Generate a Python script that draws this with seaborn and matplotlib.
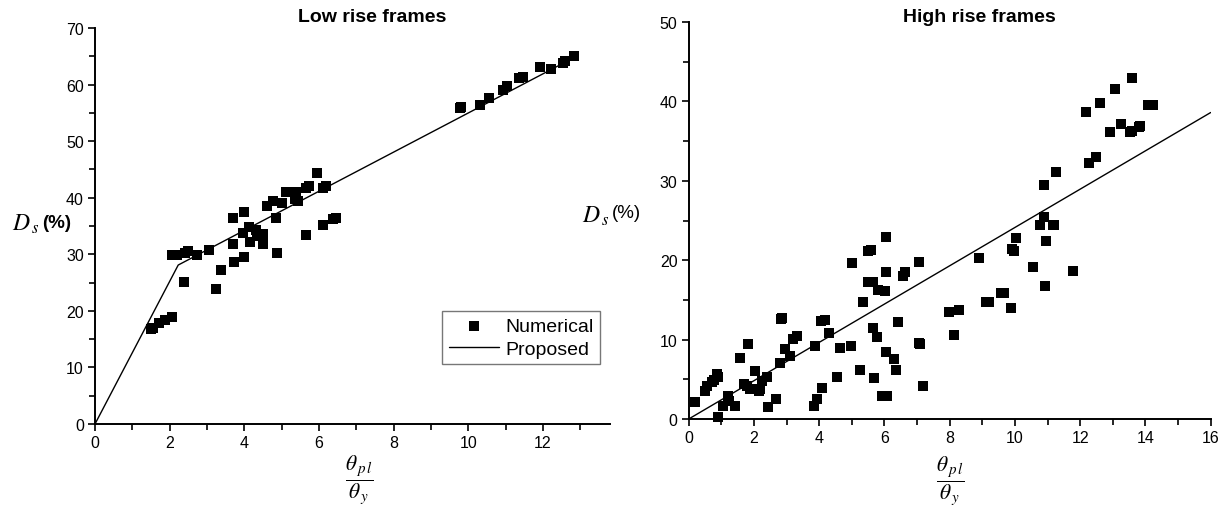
import matplotlib
matplotlib.use("Agg")
import matplotlib.pyplot as plt
from matplotlib.ticker import MultipleLocator
import seaborn as sns
import pandas as pd

# ---------------- data ----------------
low_x = [1.49, 1.55, 1.72, 1.88, 2.05,
         2.05, 2.19, 2.41, 2.50, 2.72, 3.05,
         2.38, 3.24, 3.37, 3.72, 4.00, 4.88,
         3.70, 4.00, 3.70, 3.97, 4.13, 4.15, 4.31, 4.33, 4.51, 4.49, 4.85,
         4.62, 4.76, 5.00, 5.11, 5.38, 5.36, 5.45, 5.65, 5.74, 5.96, 6.12,
         6.20, 5.65, 6.12, 6.38, 6.45,
         9.78, 9.80, 10.31, 10.55, 10.94, 11.03, 11.37, 11.46, 11.92, 12.21,
         12.53, 12.59, 12.84]
low_y = [16.8, 16.9, 17.9, 18.4, 19.0,
         29.9, 29.8, 30.3, 30.5, 29.9, 30.8,
         25.1, 23.9, 27.2, 28.6, 29.6, 30.3,
         36.4, 37.5, 31.8, 33.7, 34.8, 32.1, 34.3, 33.2, 33.6, 31.8, 36.4,
         38.5, 39.5, 39.1, 41.0, 41.0, 39.8, 39.4, 41.8, 42.1, 44.4, 41.8,
         42.0, 33.4, 35.2, 36.2, 36.5,
         55.8, 56.1, 56.4, 57.6, 59.1, 59.7, 61.2, 61.4, 63.1, 62.8,
         63.9, 64.1, 65.0]
low_line_x = [0.0, 2.23, 12.9]
low_line_y = [0.0, 28.1, 65.0]

high_x = [0.19, 0.50, 0.55, 0.71, 0.78, 0.86, 0.91, 0.91, 1.06, 1.21, 1.25,
          1.42, 1.57, 1.83, 1.68, 1.78, 1.88, 2.03, 2.14, 2.19, 2.24, 2.40,
          2.44, 2.68, 2.82, 2.85, 2.80, 2.96, 3.11, 3.21, 3.33, 3.88, 3.85,
          3.93, 4.08, 4.06, 4.18, 4.31, 4.54, 4.64, 4.98, 5.02, 5.25, 5.33,
          5.51, 5.60, 5.51, 5.66, 5.66, 5.69, 5.76, 5.81, 6.02, 6.05, 5.92,
          6.07, 6.05, 6.28, 6.36, 6.43, 6.05, 6.58, 6.63, 7.07, 7.06, 7.10,
          7.18, 7.99, 8.27, 8.14, 8.91, 9.12, 9.19, 9.57, 9.65, 9.89, 9.91,
          9.96, 10.04, 10.55, 10.91, 10.95, 11.78, 10.78, 10.88, 11.17, 11.20,
          10.88, 11.27, 12.18, 12.28, 12.49, 12.62, 12.90, 13.08, 13.25,
          13.59, 13.54, 13.60, 13.79, 13.84, 14.08, 14.23]
high_y = [2.18, 3.57, 4.19, 4.60, 4.90, 5.67, 5.25, 0.29, 1.68, 2.94, 2.31,
          1.60, 7.64, 9.45, 4.41, 4.19, 3.78, 6.00, 3.57, 3.78, 4.83, 5.33,
          1.55, 2.52, 12.6, 12.7, 7.00, 8.82, 7.90, 10.1, 10.5, 9.16, 1.60,
          2.52, 3.90, 12.4, 12.5, 10.8, 5.25, 8.90, 9.24, 19.6, 6.17, 14.7,
          21.1, 21.3, 17.2, 17.2, 11.4, 5.16, 10.3, 16.3, 16.1, 18.5, 2.94,
          2.94, 8.48, 7.56, 6.20, 12.25, 22.9, 18.05, 18.5, 19.8, 9.53, 9.50,
          4.20, 13.5, 13.7, 10.6, 20.3, 14.77, 14.7, 15.9, 15.9, 14.0, 21.4,
          21.2, 22.75, 19.2, 16.7, 22.45, 18.7, 24.4, 25.4, 24.4, 24.4,
          29.5, 31.1, 38.7, 32.3, 33.0, 39.8, 36.1, 41.6, 37.1,
          42.9, 36.2, 36.3, 36.8, 36.9, 39.5, 39.6]
high_line_x = [0.0, 16.0]
high_line_y = [0.0, 38.6]

# ---------------- style ----------------
sns.set_style("ticks")
plt.rcParams['font.family'] = ['Liberation Sans', 'DejaVu Sans']
plt.rcParams['mathtext.fontset'] = 'stix'
plt.rcParams['text.color'] = 'black'
plt.rcParams['axes.labelcolor'] = 'black'

W, H = 1227, 510
fig = plt.figure(figsize=(W / 100, H / 100), dpi=100)

ax1 = fig.add_axes([95 / W, (H - 425) / H, 515 / W, 396 / H])
ax2 = fig.add_axes([688.7 / W, (H - 420) / H, 522 / W, 397 / H])

low_pts = pd.DataFrame({"x": low_x, "y": low_y})
low_ln = pd.DataFrame({"x": low_line_x, "y": low_line_y})
high_pts = pd.DataFrame({"x": high_x, "y": high_y})
high_ln = pd.DataFrame({"x": high_line_x, "y": high_line_y})

sns.scatterplot(data=low_pts, x="x", y="y", ax=ax1, marker="s", s=58,
                color="black", edgecolor="black", linewidth=0,
                label="Numerical", zorder=3, clip_on=False)
sns.lineplot(data=low_ln, x="x", y="y", ax=ax1, color="black", lw=1.0,
             label="Proposed", sort=False, estimator=None)

sns.scatterplot(data=high_pts, x="x", y="y", ax=ax2, marker="s", s=58,
                color="black", edgecolor="black", linewidth=0,
                zorder=3, clip_on=False, legend=False)
sns.lineplot(data=high_ln, x="x", y="y", ax=ax2, color="black", lw=1.0,
             sort=False, estimator=None, legend=False)

for ax, xmax, ymax, xmaj, ymaj in [(ax1, 13.8, 70, 2, 10), (ax2, 16, 50, 2, 10)]:
    ax.set_xlim(0, xmax)
    ax.set_ylim(0, ymax)
    ax.xaxis.set_major_locator(MultipleLocator(xmaj))
    ax.xaxis.set_minor_locator(MultipleLocator(xmaj / 2))
    ax.yaxis.set_major_locator(MultipleLocator(ymaj))
    ax.yaxis.set_minor_locator(MultipleLocator(ymaj / 2))
    ax.tick_params(which="major", length=5, width=1.2, labelsize=11.5,
                   colors="black", pad=3)
    ax.tick_params(which="minor", length=4, width=1.2, colors="black")
    for side in ["top", "right"]:
        ax.spines[side].set_visible(False)
    for side in ["left", "bottom"]:
        ax.spines[side].set_linewidth(1.4)
        ax.spines[side].set_color("black")
    ax.set_xlabel("")
    ax.set_ylabel("")

ax1.set_xticks(range(0, 13, 2))

leg = ax1.legend(loc="upper left", bbox_to_anchor=((442 - 95) / 515, (425 - 311.7) / 396),
                 frameon=True, fancybox=False, edgecolor="#555555",
                 fontsize=14, handlelength=2.6, handletextpad=0.3,
                 borderpad=0.35, labelspacing=0.25, borderaxespad=0)
leg.get_frame().set_linewidth(1.0)
for t in leg.get_texts():
    t.set_color("black")

# titles
fig.text(372 / W, 1 - 17 / H, "Low rise frames", ha="center", va="center",
         fontsize=14, fontweight="bold", color="black")
fig.text(979 / W, 1 - 17 / H, "High rise frames", ha="center", va="center",
         fontsize=14, fontweight="bold", color="black")

# y labels
fig.text(12 / W, 1 - 224 / H, r"$D_{\,s}$", ha="left", va="center", fontsize=17,
         color="black")
fig.text(42 / W, 1 - 224 / H, "(%)", ha="left", va="center", fontsize=13.5,
         fontweight="bold", color="black")
fig.text(582 / W, 1 - 216 / H, r"$D_{\,s}$", ha="left", va="center", fontsize=17,
         color="black")
fig.text(612 / W, 1 - 214 / H, "(%)", ha="left", va="center", fontsize=13.5,
         color="black")

# x labels
frac = r"$\dfrac{\theta_{\,p\,l}}{\theta_{\,y}}$"
fig.text(359 / W, 1 - 480 / H, frac, ha="center", va="center", fontsize=15.5,
         color="black")
fig.text(950 / W, 1 - 481 / H, frac, ha="center", va="center", fontsize=15.5,
         color="black")

fig.savefig("out.png", dpi=100)
